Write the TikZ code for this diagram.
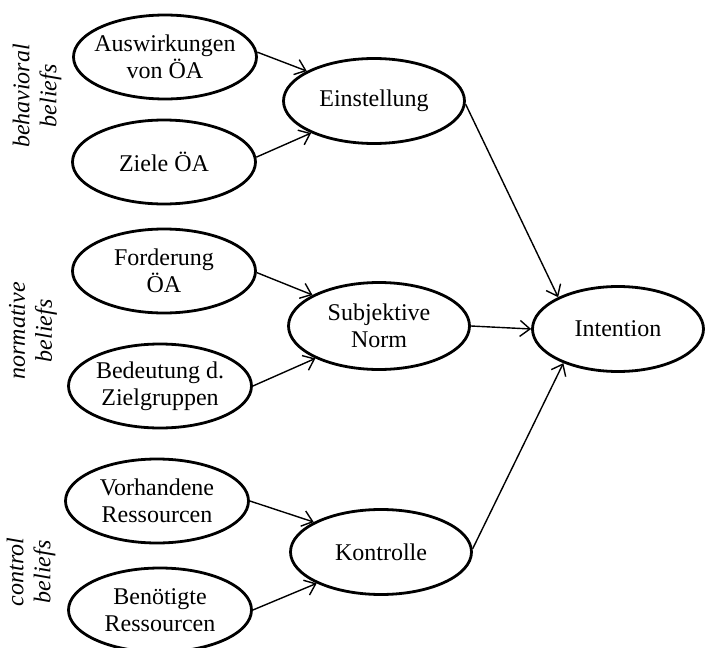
\documentclass[tikz,border=0pt]{standalone}
\usepackage{fontspec}
\setmainfont{Liberation Serif}
\usetikzlibrary{shapes.geometric,arrows.meta}
\begin{document}
\begin{tikzpicture}[x=0.5pt,y=-0.5pt,
  belief/.style={draw, ellipse, line width=1.4pt, minimum width=91.5pt,
    minimum height=42pt, inner xsep=-12pt, inner ysep=-7pt, align=center,
    font=\fontsize{12}{13.5}\selectfont},
  construct/.style={belief, minimum width=90.5pt, minimum height=42.5pt},
  link/.style={line width=0.7pt, -{Straight Barb[length=5pt,width=8pt]}},
  group/.style={rotate=90, align=center, font=\fontsize{12}{13.5}\selectfont\itshape}]
\useasboundingbox (0,0) rectangle (708,648);

% belief groups
\node[group] (beh) at (37,96) {behavioral\\beliefs};
\node[group] (nor) at (33,331) {normative\\beliefs};
\node[group] (con) at (31,572) {control\\beliefs};

% beliefs
\node[belief] (aus) at (165,57)  {Auswirkungen\\von ÖA};
\node[belief] (zie) at (164,162) {Ziele ÖA};
\node[belief] (for) at (164,271) {Forderung\\ÖA};
\node[belief] (bed) at (160,386) {Bedeutung d.\\Zielgruppen};
\node[belief] (vor) at (157,501) {Vorhandene\\Ressourcen};
\node[belief] (ben) at (160,610) {Benötigte\\Ressourcen};

% constructs
\node[construct] (ein) at (374,101) {Einstellung};
\node[construct, minimum height=43.5pt] (sub) at (379,326) {Subjektive\\Norm};
\node[construct] (kon) at (381,552) {Kontrolle};
\node[construct, minimum width=85.5pt] (int) at (618,329) {Intention};

% links
\draw[link] (aus.3) -- (ein.156);
\draw[link] (zie.3) -- (ein.207);
\draw[link] (for.-1) -- (sub.155);
\draw[link] (bed.0) -- (sub.207);
\draw[link] (vor.0) -- (kon.156);
\draw[link] (ben.0) -- (kon.206);
\draw[link] (ein.-2) -- (int.152);
\draw[link] (sub.east) -- (int.west);
\draw[link] (kon.2) -- (int.212);
\end{tikzpicture}
\end{document}
